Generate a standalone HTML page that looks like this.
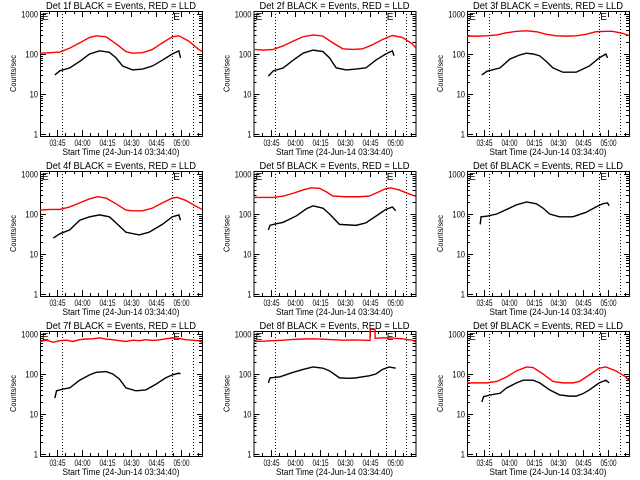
<!DOCTYPE html>
<html><head><meta charset="utf-8"><style>
html,body{margin:0;padding:0;background:#fff}
svg{display:block}
text{font-family:"Liberation Sans",sans-serif;fill:#000}
</style></head><body>
<svg id="c" width="640" height="480" viewBox="0 0 640 480" shape-rendering="crispEdges"></svg>
<script>
// time in minutes since 03:34:40 ; values in counts/sec
const detNames = ["1f","2f","3f","4f","5f","6f","7f","8f","9f"];
const tickLabels = ["03:45","04:00","04:15","04:30","04:45","05:00"];
const tickMinutes = [10.33,25.33,40.33,55.33,70.33,85.33];
const yTickValues = [1,10,100,1000];
const yTickLabels = ["1","10","100","1000"];
const markerMinutes = [13.3,80,92.5];
const redT1 = [0,6,12,18,24,30,34,40,46,52,56,62,68,74,80,84,90,96,98];
const redV1 = [105,108,112,140,190,260,285,270,180,115,105,108,130,190,270,285,210,130,115];
const blkT1 = [9,12,18,24,30,36,42,46,50,56,62,68,74,80,84,85];
const blkV1 = [30,38,45,65,100,120,110,80,50,40,42,50,70,100,120,80];
const redT2 = [0,6,12,18,24,30,36,42,48,54,60,66,72,78,84,90,96,98];
const redV2 = [130,125,130,160,210,270,300,280,190,135,130,135,170,230,290,260,180,145];
const blkT2 = [9,12,18,24,30,36,42,46,50,56,62,68,74,80,84,85];
const blkV2 = [28,38,45,70,105,125,115,80,45,40,42,45,70,100,120,90];
const redT3 = [0,6,12,18,24,30,36,42,48,54,60,66,72,78,84,88,94,98];
const redV3 = [280,280,285,300,340,370,380,360,310,285,280,285,310,360,370,370,330,290];
const blkT3 = [9,12,20,26,32,36,40,44,48,52,58,66,70,74,80,84,85];
const blkV3 = [30,37,45,75,95,105,100,90,65,45,35,35,42,50,80,100,80];
const redT4 = [0,6,12,18,24,30,35,40,46,52,56,62,68,74,80,83,88,94,98];
const redV4 = [125,130,130,150,190,240,270,250,180,125,120,120,140,190,250,260,220,160,130];
const blkT4 = [8,12,18,24,30,36,42,46,52,60,66,74,80,84,85];
const blkV4 = [25,32,40,70,85,95,85,60,35,30,35,55,85,95,70];
const redT5 = [0,6,12,18,24,30,35,40,44,48,56,64,70,76,80,83,88,94,98];
const redV5 = [260,260,260,280,330,400,450,440,360,280,270,270,280,360,430,450,400,320,280];
const blkT5 = [9,10,12,18,26,32,36,42,46,52,62,68,76,80,84,86];
const blkV5 = [40,52,55,62,90,135,160,140,100,55,52,60,100,130,150,120];
const redT6 = [];
const redV6 = [];
const blkT6 = [8,8.5,12,18,24,30,36,42,46,50,56,64,72,78,82,85,86];
const blkV6 = [55,85,88,100,130,170,200,180,140,100,85,85,110,150,180,190,160];
const redT7 = [0,4,8,12,16,20,24,28,32,36,40,44,48,52,56,60,64,68,72,76,80,84,88,92,96,98];
const redV7 = [650,700,620,680,700,650,720,750,760,800,740,720,680,650,700,680,720,690,710,760,800,780,720,700,680,620];
const blkT7 = [9,10,14,18,24,30,34,40,44,48,52,58,64,70,76,80,84,85];
const blkV7 = [25,38,42,45,70,95,110,115,100,75,45,38,40,55,80,95,105,100];
const redT8 = [0,6,12,18,24,30,36,42,48,54,60,66,70.5,70.6,73.5,73.6,78,84,90,96,98];
const redV8 = [650,660,680,700,730,750,760,740,720,700,710,700,690,1300,1300,780,800,790,760,700,640];
const blkT8 = [9,10,16,24,30,36,42,46,52,58,62,66,70,74,78,82,86];
const blkV8 = [60,80,85,110,130,150,140,120,80,78,80,85,90,100,130,150,140];
const redT9 = [0,6,12,18,24,30,36,40,46,52,58,64,68,74,80,84,90,96,98];
const redV9 = [60,60,60,65,85,120,150,145,100,65,60,60,65,95,140,150,120,85,70];
const blkT9 = [9,10,14,20,24,30,34,40,44,50,56,62,66,70,74,80,84,86];
const blkV9 = [20,27,30,33,45,60,70,70,60,40,30,28,28,32,40,60,70,60];

const redT = [redT1,redT2,redT3,redT4,redT5,redT6,redT7,redT8,redT9];
const redV = [redV1,redV2,redV3,redV4,redV5,redV6,redV7,redV8,redV9];
const blkT = [blkT1,blkT2,blkT3,blkT4,blkT5,blkT6,blkT7,blkT8,blkT9];
const blkV = [blkV1,blkV2,blkV3,blkV4,blkV5,blkV6,blkV7,blkV8,blkV9];

const svg = document.getElementById('c');
const NS = "http://www.w3.org/2000/svg";
function mk(tag, attrs, parent){const e=document.createElementNS(NS,tag);for(const k in attrs)e.setAttribute(k,attrs[k]);parent.appendChild(e);return e;}
const colLeft=[40,253.5,467], rowTop=[11,171,331], W=162, H=125, TMAX=98;
for(let i=0;i<9;i++){
  const L=colLeft[i%3], T=rowTop[Math.floor(i/3)], B=T+H, R=L+W;
  const xs=t=>L+t*W/TMAX;
  const ys=v=>T+3+(3-Math.log10(v))*40;
  const g=mk('g',{},svg);
  
  
  const ttl=mk('text',{x:(L+R)/2,y:T-2,'font-size':10,'text-anchor':'middle',textLength:150,lengthAdjust:'spacingAndGlyphs'},g);
  ttl.textContent='Det '+detNames[i]+' BLACK = Events, RED = LLD';
  
  
  const box=mk('rect',{x:L+0.5,y:T+0.5,width:W,height:H,fill:'none',stroke:'#000','stroke-width':1},g);
  
  
  for(let d=0;d<yTickValues.length;d++){
    const y=Math.round(ys(yTickValues[d]))+0.5;
    mk('line',{x1:L,x2:L+6,y1:y,y2:y,stroke:'#000'},g);
    mk('line',{x1:R-5,x2:R,y1:y,y2:y,stroke:'#000'},g);
    const lab=yTickLabels[d];
    const tl=mk('text',{x:L-2,y:y+3,'font-size':9,'text-anchor':'end',textLength:lab.length*4.2,lengthAdjust:'spacingAndGlyphs'},g);
    tl.textContent=lab;
    
    
    if(d<yTickValues.length-1){for(let m=2;m<10;m++){const ym=Math.round(ys(yTickValues[d]*m))+0.5;
      mk('line',{x1:L,x2:L+3,y1:ym,y2:ym,stroke:'#000'},g);mk('line',{x1:R-3,x2:R,y1:ym,y2:ym,stroke:'#000'},g);}}
  }
  const yl=mk('text',{x:0,y:0,'font-size':8,'text-anchor':'middle',textLength:37,lengthAdjust:'spacingAndGlyphs',transform:`translate(${L-24},${(T+B)/2}) rotate(-90)`},g);
  yl.textContent='Counts/sec';
  
  
  for(let k=0;k<tickMinutes.length;k++){
    const x=Math.round(xs(tickMinutes[k]))+0.5;
    mk('line',{x1:x,x2:x,y1:B-6,y2:B,stroke:'#000'},g);
    mk('line',{x1:x,x2:x,y1:T,y2:T+6,stroke:'#000'},g);
    const tl=mk('text',{x:x,y:B+10,'font-size':9,'text-anchor':'middle',textLength:16,lengthAdjust:'spacingAndGlyphs'},g);
    tl.textContent=tickLabels[k];
    
    
  }
  for(let m=tickMinutes[0]-5;m<TMAX;m+=5){const x=Math.round(xs(m))+0.5;if(x>L&&x<R){mk('line',{x1:x,x2:x,y1:B-3,y2:B,stroke:'#000'},g);mk('line',{x1:x,x2:x,y1:T,y2:T+3,stroke:'#000'},g);}}
  const xt=mk('text',{x:(L+R)/2,y:B+19,'font-size':9,'text-anchor':'middle',textLength:117,lengthAdjust:'spacingAndGlyphs'},g);
  xt.textContent='Start Time (24-Jun-14 03:34:40)';
  
  
  for(const mm of markerMinutes){const x=Math.round(xs(mm))+0.5;
    const ml=mk('line',{x1:x,x2:x,y1:T,y2:B,stroke:'#000','stroke-dasharray':'1,2'},g);
    
    }
  for(const ex of [L+2, xs(markerMinutes[1])+1]){const e=mk('text',{x:ex,y:T+9,'font-size':10},g);e.textContent='E';
    
    }
  if(redT[i].length){const p=mk('polyline',{points:redT[i].map((t,j)=>xs(t)+','+ys(redV[i][j])).join(' '),fill:'none',stroke:'#ff0000','stroke-width':1.4,'shape-rendering':'auto'},g);
    
    }
  const pb=mk('polyline',{points:blkT[i].map((t,j)=>xs(t)+','+ys(blkV[i][j])).join(' '),fill:'none',stroke:'#000','stroke-width':1.4,'shape-rendering':'auto'},g);
  
  
}
</script>
</body></html>
